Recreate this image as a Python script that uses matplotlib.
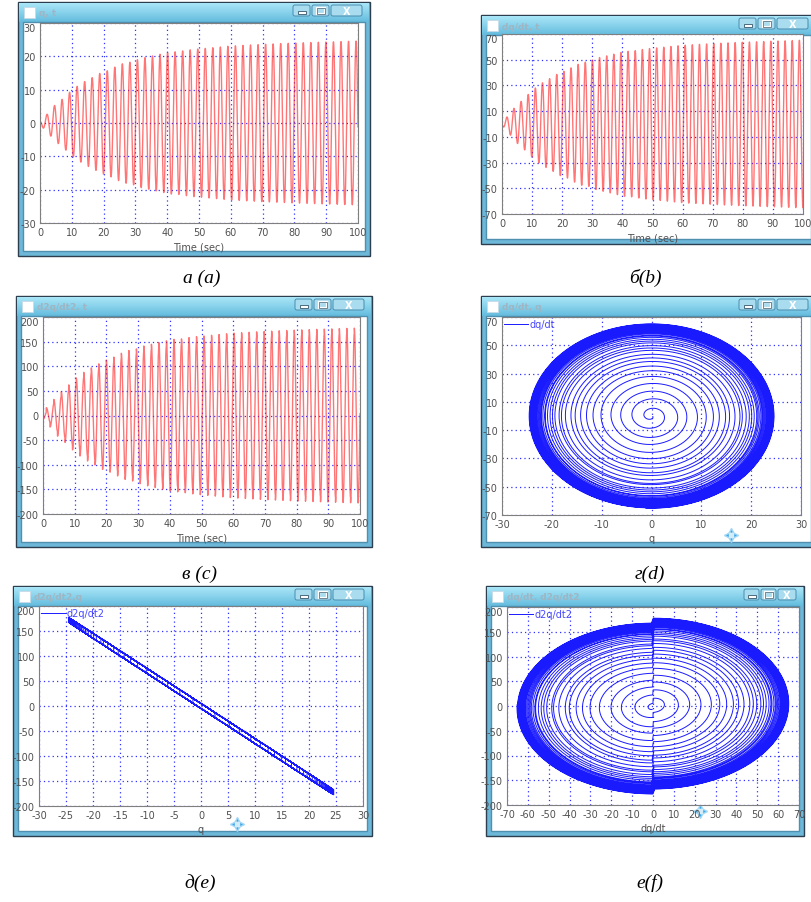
import numpy as np
import matplotlib
matplotlib.use('Agg')
import matplotlib.pyplot as plt
from matplotlib.patches import Rectangle, FancyBboxPatch

plt.rcParams['axes.unicode_minus'] = False
plt.rcParams['font.family'] = ['DejaVu Sans']

# envelope of q(t): time (sec) and peak amplitude
env_t = [0, 1, 2.2, 4.6, 7.2, 9.6, 12.1, 14.5, 16.8, 19.2, 21.6, 24, 26.5, 28.8,
         31.4, 33.8, 36.3, 38.6, 41, 43.4, 46, 48.5, 51, 60, 70, 80, 90, 100]
env_q = [0.3, 1.5, 2.6, 5.3, 7.3, 9.5, 11.3, 12.7, 13.8, 15.1, 15.8, 17.0, 18.0, 18.3,
         19.3, 19.8, 20.3, 20.8, 21.3, 21.4, 21.8, 22.1, 22.3, 23.1, 23.6, 24.0, 24.3, 24.6]

# oscillation frequency (rad/s), time of first zero crossing, and the
# jump of d2q/dt2 when dq/dt changes sign (read from panels e and f)
omega = 2.65
t_shift = 0.4
fric_step = 5.0

# axis ticks of each panel
ticks_time = [0, 10, 20, 30, 40, 50, 60, 70, 80, 90, 100]
ticks_q_a = [-30, -20, -10, 0, 10, 20, 30]
ticks_dq = [-70, -50, -30, -10, 10, 30, 50, 70]
ticks_d2q = [-200, -150, -100, -50, 0, 50, 100, 150, 200]
ticks_q_d = [-30, -20, -10, 0, 10, 20, 30]
ticks_q_e = [-30, -25, -20, -15, -10, -5, 0, 5, 10, 15, 20, 25, 30]
ticks_dq_f = [-70, -60, -50, -40, -30, -20, -10, 0, 10, 20, 30, 40, 50, 60, 70]

captions = ['а (a)', 'б(b)', 'в (c)', 'г(d)', 'д(e)', 'е(f)']
win_titles = ['q, t', 'dq/dt, t', 'd2q/dt2, t', 'dq/dt, q', 'd2q/dt2,q', 'dq/dt, d2q/dt2']

# build the signals from the envelope
t = np.arange(0, 100.0001, 0.005)
amp = np.interp(t, env_t, env_q)
phase = omega * (t - t_shift)
q = -amp * np.sin(phase)
dq = -amp * omega * np.cos(phase)
d2q = -omega ** 2 * q + fric_step * np.sign(dq)

W, H = 811, 903
fig = plt.figure(figsize=(W / 100, H / 100), dpi=100)
bg = fig.add_axes([0, 0, 1, 1])
bg.set_xlim(0, W)
bg.set_ylim(H, 0)
bg.axis('off')


def draw_window(x0, y0, x1, y1, title, bw=(19, 19, 33)):
    """window frame with title bar and buttons, in pixel coords"""
    bg.add_patch(Rectangle((x0, y0), x1 - x0, y1 - y0, fc='#6db7d8', ec='#2d3e4e', lw=1, zorder=1))
    top_c = np.array([0.66, 0.90, 0.97])
    bot_c = np.array([0.40, 0.74, 0.87])
    grad = top_c + np.linspace(0, 1, 20)[:, None, None] * (bot_c - top_c)
    bg.imshow(grad, extent=(x0 + 1, x1 - 1, y0 + 20, y0 + 1), aspect='auto', zorder=2)
    bg.add_patch(Rectangle((x0 + 5, y0 + 20), x1 - x0 - 10, y1 - y0 - 25, fc='white', ec='#4f8fb0', lw=1, zorder=3))
    bg.add_patch(Rectangle((x0 + 6, y0 + 5), 11, 11, fc='white', ec='#c8dbe6', lw=0.6, zorder=3))
    bg.text(x0 + 21, y0 + 11, title, fontsize=6.5, color='#9fb5c3', weight='bold', va='center', zorder=4)
    # minimize / maximize / close
    bx = x1 - 7 - sum(bw)
    for i, w in enumerate(bw):
        bg.add_patch(FancyBboxPatch((bx + 1, y0 + 3), w - 2, 11, boxstyle='round,pad=0,rounding_size=2',
                                    fc='#a9dcef', ec='#4a8db0', lw=0.7, zorder=3))
        cx = bx + w / 2
        if i == 0:
            bg.add_patch(Rectangle((cx - 4, y0 + 9), 8, 2.5, fc='white', ec='#35566a', lw=0.6, zorder=4))
        elif i == 1:
            bg.add_patch(Rectangle((cx - 4, y0 + 5.5), 8, 6, fc='none', ec='white', lw=1.6, zorder=4))
            bg.add_patch(Rectangle((cx - 4, y0 + 5.5), 8, 6, fc='none', ec='#35566a', lw=0.5, zorder=4))
        else:
            bg.text(cx, y0 + 9, 'X', fontsize=7, color='white', weight='bold', ha='center', va='center', zorder=4)
        bx += w
    bg.set_xlim(0, W)
    bg.set_ylim(H, 0)


def move_cursor(cx, cy):
    for dx, dy, m in [(0, -4, '^'), (0, 4, 'v'), (-4, 0, '<'), (4, 0, '>')]:
        bg.plot(cx + dx, cy + dy, marker=m, color='#3da7e6', ms=4, mec='#9fd6f5', zorder=10)
    bg.plot(cx, cy, marker='s', color='#d3ecfa', ms=3, zorder=10)


def px_axes(l, t_, r, b):
    return fig.add_axes([l / W, 1 - b / H, (r - l) / W, (b - t_) / H], zorder=5)


def style_axes(ax, xt, yt, xlabel):
    ax.set_xlim(xt[0], xt[-1])
    ax.set_ylim(yt[0], yt[-1])
    ax.set_xticks(xt)
    ax.set_yticks(yt)
    ax.tick_params(length=0, labelsize=7, labelcolor='#505050', pad=3)
    for s in ax.spines.values():
        s.set_color('#7f7f7f')
    ax.grid(True, color='#3030ff', linestyle=(0, (1, 2.5)), lw=0.9)
    ax.set_xlabel(xlabel, fontsize=7, color='#505050', labelpad=3)
    ax.get_yticklabels()[-1].set_verticalalignment('top')


def add_legend(ax):
    ax.legend(loc='upper left', frameon=False, fontsize=7, labelcolor='#4848ff', handlelength=2.5,
              handletextpad=0.1, borderaxespad=0.1, borderpad=0.1)


# --- windows ---
draw_window(18, 3, 370, 257, win_titles[0])
draw_window(481, 16, 816, 245, win_titles[1])
draw_window(16, 297, 372, 548, win_titles[2])
draw_window(481, 297, 816, 548, win_titles[3])
draw_window(13, 587, 372, 837, win_titles[4])
draw_window(486, 587, 804, 837, win_titles[5], bw=(17, 17, 20))

red = '#ff1a1a'
blue = '#1a1aff'

# (a) q vs time
ax = px_axes(40, 24, 358, 224)
ax.plot(t, q, color=red, lw=1.0, alpha=0.6)
style_axes(ax, ticks_time, ticks_q_a, 'Time (sec)')

# (b) dq/dt vs time
ax = px_axes(502, 35, 803, 215)
ax.plot(t, dq, color=red, lw=1.0, alpha=0.6)
style_axes(ax, ticks_time, ticks_dq, 'Time (sec)')

# (c) d2q/dt2 vs time
ax = px_axes(43, 318, 360, 515)
ax.plot(t, d2q, color=red, lw=1.0, alpha=0.6)
style_axes(ax, ticks_time, ticks_d2q, 'Time (sec)')

# (d) dq/dt vs q
ax = px_axes(502, 318, 801, 516)
ax.plot(q, dq, color=blue, lw=0.7, label='dq/dt')
style_axes(ax, ticks_q_d, ticks_dq, 'q')
add_legend(ax)

# (e) d2q/dt2 vs q
ax = px_axes(39, 607, 363, 807)
ax.plot(q, d2q, color=blue, lw=0.7, label='d2q/dt2')
style_axes(ax, ticks_q_e, ticks_d2q, 'q')
add_legend(ax)

# (f) d2q/dt2 vs dq/dt
ax = px_axes(507, 608, 799, 806)
ax.plot(dq, d2q, color=blue, lw=0.7, label='d2q/dt2')
style_axes(ax, ticks_dq_f, ticks_d2q, 'dq/dt')
add_legend(ax)

# move cursors left in the screenshots
for cx, cy in [(262, 208), (686, 207), (206, 480), (731, 536), (237, 825), (700, 812)]:
    move_cursor(cx, cy)

# captions under each window
for (cx, cy), txt in zip([(202, 278), (645, 278), (200, 574), (650, 574), (200, 883), (650, 883)], captions):
    bg.text(cx, cy, txt, fontsize=14, family='Liberation Serif', style='italic', ha='center', va='center')

fig.savefig('out.png', dpi=100)
